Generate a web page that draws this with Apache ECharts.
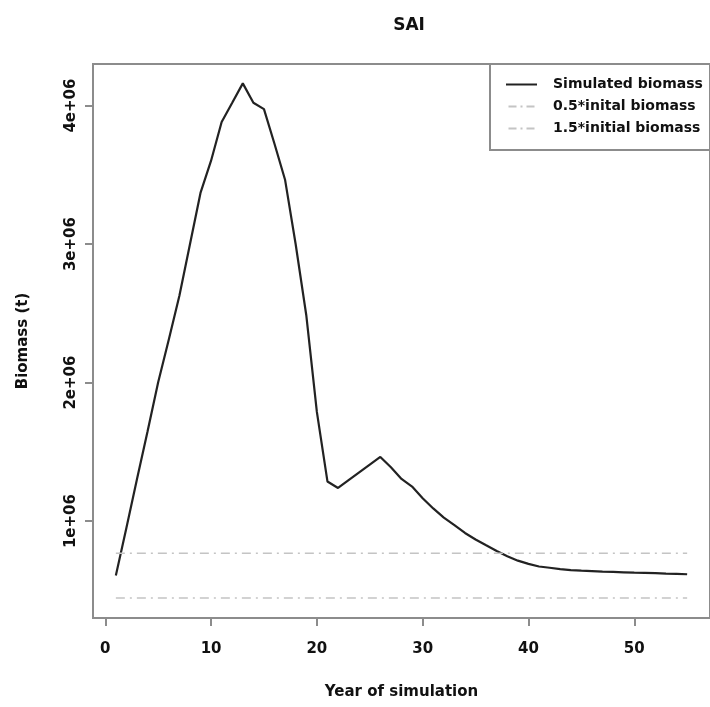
<!DOCTYPE html>
<html>
<head>
<meta charset="utf-8">
<script src="https://cdn.jsdelivr.net/npm/echarts@6/dist/echarts.min.js"></script>
<style>html,body{margin:0;padding:0;background:#fff}#c{width:710px;height:707px}</style>
</head>
<body>
<div id="c"></div>
<script>
var years = [];
for (var i = 1; i <= 55; i++) years.push(i);
var biomass = [0.607,0.951,1.304,1.649,2.002,2.309,2.625,2.997,3.369,3.602,3.881,4.02,4.16,4.02,3.974,3.722,3.462,2.997,2.486,1.788,1.286,1.239,1.295,1.351,1.407,1.463,1.388,1.304,1.249,1.165,1.091,1.025,0.970,0.914,0.867,0.825,0.784,0.746,0.714,0.691,0.672,0.663,0.653,0.646,0.642,0.639,0.635,0.633,0.630,0.627,0.626,0.624,0.621,0.619,0.616];
var halfInitial = 0.444;
var oneHalfInitial = 0.768;
var xTicks = [0,10,20,30,40,50];
var yTicks = [1,2,3,4];
var seriesNames = ['Simulated biomass','0.5*inital biomass','1.5*initial biomass'];

var simData = years.map(function(y,i){return [y, biomass[i]*1e6];});
var halfData = [[years[0], halfInitial*1e6],[years[years.length-1], halfInitial*1e6]];
var oneHalfData = [[years[0], oneHalfInitial*1e6],[years[years.length-1], oneHalfInitial*1e6]];

var FONT = 'DejaVu Sans';
var solidIcon = 'path://M0,0 L31,0 L31,2 L0,2 Z';
var dashIcon = 'path://M0,0 L8,0 L8,2 L0,2 Z M12,0 L14,0 L14,2 L12,2 Z M18,0 L26,0 L26,2 L18,2 Z';
var chart = echarts.init(document.getElementById('c'), null, {renderer:'canvas'});
chart.setOption({
  animation:false,
  backgroundColor:'#fff',
  title:{text:'SAI', left:404, top:12, textAlign:'center',
    textStyle:{fontFamily:FONT, fontWeight:'bold', fontSize:17, color:'#111'}},
  grid:{left:93, top:64, width:622, height:554, show:true, borderColor:'#8c8c8c', borderWidth:2, containLabel:false},
  legend:{
    orient:'vertical', left:490, top:64,
    data:[
      {name:seriesNames[0], icon:solidIcon, itemStyle:{color:'#222'}},
      {name:seriesNames[1], icon:dashIcon, itemStyle:{color:'#c4c4c4'}},
      {name:seriesNames[2], icon:dashIcon, itemStyle:{color:'#c4c4c4'}}
    ],
    borderColor:'#8c8c8c', borderWidth:2, borderRadius:0,
    padding:[13,12,14,16],
    itemWidth:31, itemHeight:2, itemGap:7,
    textStyle:{fontFamily:FONT, fontWeight:'bold', fontSize:14, color:'#111', padding:[0,0,0,11], lineHeight:15}
  },
  xAxis:{
    type:'value', min:-1.16, max:57.16,
    splitLine:{show:false},
    axisLine:{show:false, onZero:false},
    axisTick:{show:true, inside:false, length:8, lineStyle:{color:'#8c8c8c', width:2}, customValues:xTicks},
    axisLabel:{margin:24, fontFamily:FONT, fontWeight:'bold', fontSize:15, color:'#111', customValues:xTicks,
      formatter:function(v){return String(v);}},
    name:'Year of simulation', nameLocation:'middle', nameGap:67,
    nameTextStyle:{fontFamily:FONT, fontWeight:'bold', fontSize:15, color:'#111'}
  },
  yAxis:{
    type:'value', min:0.3e6, max:4.3e6,
    splitLine:{show:false},
    axisLine:{show:false, onZero:false},
    axisTick:{show:true, inside:false, length:8, lineStyle:{color:'#8c8c8c', width:2}, customValues:yTicks.map(function(v){return v*1e6;})},
    axisLabel:{margin:14, rotate:90, fontFamily:FONT, fontWeight:'bold', fontSize:15, color:'#111',
      customValues:yTicks.map(function(v){return v*1e6;}),
      formatter:function(v){return Math.round(v/1e6)+'e+06';}},
    name:'Biomass (t)', nameLocation:'middle', nameGap:62,
    nameTextStyle:{fontFamily:FONT, fontWeight:'bold', fontSize:15, color:'#111'}
  },
  series:[
    {name:seriesNames[0], type:'line', data:simData, symbol:'none', lineStyle:{color:'#222', width:2.2}, itemStyle:{color:'#222'}},
    {name:seriesNames[1], type:'line', data:halfData, symbol:'none', lineStyle:{color:'#c4c4c4', width:1.6, type:[9,5,2,5]}, itemStyle:{color:'#c4c4c4'}},
    {name:seriesNames[2], type:'line', data:oneHalfData, symbol:'none', lineStyle:{color:'#c4c4c4', width:1.6, type:[9,5,2,5]}, itemStyle:{color:'#c4c4c4'}}
  ]
});
</script>
</body>
</html>
